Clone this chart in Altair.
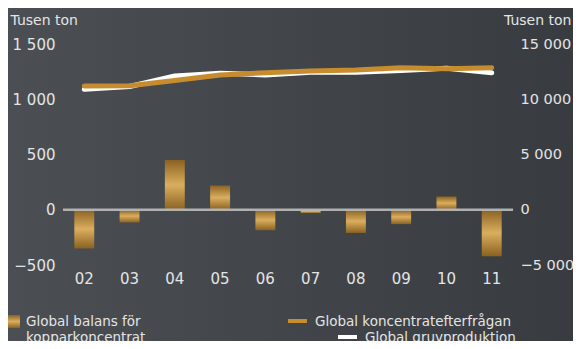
import altair as alt
import pandas as pd

# ---- data ----
years = ["02", "03", "04", "05", "06", "07", "08", "09", "10", "11"]
balance = [-350, -115, 450, 220, -185, -30, -210, -130, 120, -420]          # left axis (bars)
demand = [11200, 11230, 11700, 12200, 12400, 12550, 12650, 12850, 12750, 12850]   # right axis
production = [10900, 11150, 12100, 12350, 12200, 12450, 12450, 12600, 12800, 12400]  # right axis
left_ticks = [-500, 0, 500, 1000, 1500]
right_ticks = [-5000, 0, 5000, 10000, 15000]
axis_title = "Tusen ton"
legend_labels = ["Global balans för\nkopparkoncentrat", "Global koncentratefterfrågan", "Global gruvproduktion"]

W, H = 450, 221
PAD = {"left": 55, "top": 36, "right": 60, "bottom": 76}
FONT = "DejaVu Sans"
TXT = "#e4e4e4"
GOLD = "#c68c2d"

df = pd.DataFrame({"year": years, "balance": balance, "demand": demand, "production": production})
one = alt.Data(values=[{}])

bar_grad = alt.LinearGradient(
    gradient="linear", x1=0, x2=0, y1=0, y2=1,
    stops=[alt.GradientStop(color="#8a6221", offset=0),
           alt.GradientStop(color="#dbae5f", offset=0.5),
           alt.GradientStop(color="#8a6221", offset=1)])
bg_grad = alt.LinearGradient(
    gradient="linear", x1=0, x2=1, y1=0, y2=0,
    stops=[alt.GradientStop(color="#4b4f54", offset=0),
           alt.GradientStop(color="#383c40", offset=1)])

xscale = alt.Scale(paddingInner=0.56, paddingOuter=0.25)
x_enc = alt.X("year:N", sort=years, scale=xscale,
              axis=alt.Axis(title=None, labelAngle=0, labelFontSize=15, labelPadding=6,
                            domain=False, ticks=False, labelColor=TXT, labelFont=FONT, zindex=1))

fmt = "replace(format(datum.value, ','), ',', ' ')"

left_axis = alt.Axis(values=left_ticks, labelExpr=fmt, grid=False, domain=False, ticks=False,
                     labelPadding=8, labelFontSize=15, labelColor=TXT, labelFont=FONT,
                     title=axis_title, titleAngle=0, titleAlign="left", titleBaseline="alphabetic",
                     titleX=-53, titleY=-20, titleFontSize=14, titleFontWeight="normal",
                     titleColor=TXT, titleFont=FONT, zindex=1)
right_axis = alt.Axis(orient="right", values=right_ticks, labelExpr=fmt, grid=False, domain=False,
                      ticks=False, labelPadding=7, labelFontSize=14.5, labelColor=TXT, labelFont=FONT,
                      labelAlign="left", labelLimit=60,
                      title=axis_title, titleAngle=0, titleAlign="right", titleBaseline="alphabetic",
                      titleX=58, titleY=-20, titleFontSize=14, titleFontWeight="normal",
                      titleColor=TXT, titleFont=FONT, zindex=1)

left_scale = alt.Scale(domain=[-500, 1500], nice=False, zero=False)
right_scale = alt.Scale(domain=[-5000, 15000], nice=False, zero=False)

background = alt.Chart(one).mark_rect(fill=bg_grad).encode(
    x=alt.value(-PAD["left"]), x2=alt.value(W + PAD["right"]),
    y=alt.value(-PAD["top"]), y2=alt.value(H + PAD["bottom"]))

bars = alt.Chart(df).mark_bar(fill=bar_grad).encode(
    x=x_enc, y=alt.Y("balance:Q", scale=left_scale, axis=left_axis))
zero_rule = alt.Chart(one).mark_rule(color="#bcbcbc", strokeWidth=2.5, opacity=0.9).encode(
    y=alt.Y(datum=0, scale=left_scale, axis=left_axis))
left_layer = alt.layer(bars, zero_rule)

white_line = alt.Chart(df).mark_line(color="#ffffff", strokeWidth=5, strokeCap="round",
                                     strokeJoin="round").encode(
    x=x_enc, y=alt.Y("production:Q", scale=right_scale, axis=right_axis))
gold_line = alt.Chart(df).mark_line(color=GOLD, strokeWidth=5, strokeCap="round",
                                    strokeJoin="round").encode(
    x=x_enc, y=alt.Y("demand:Q", scale=right_scale, axis=right_axis))
right_layer = alt.layer(white_line, gold_line)

# ---- custom legend ----
lg_font = dict(font=FONT, fontSize=13.5, color=TXT, align="left", baseline="alphabetic")
leg_sq = alt.Chart(one).mark_rect(fill=bar_grad).encode(
    x=alt.value(-55), x2=alt.value(-43), y=alt.value(271), y2=alt.value(284))
leg_t1 = alt.Chart(one).mark_text(lineBreak="\n", lineHeight=16, **lg_font).encode(
    x=alt.value(-37), y=alt.value(282), text=alt.value(legend_labels[0]))
leg_gold = alt.Chart(one).mark_rule(color=GOLD, strokeWidth=4).encode(
    x=alt.value(225), x2=alt.value(244), y=alt.value(277))
leg_t2 = alt.Chart(one).mark_text(**lg_font).encode(
    x=alt.value(252), y=alt.value(282), text=alt.value(legend_labels[1]))
leg_white = alt.Chart(one).mark_rule(color="#ffffff", strokeWidth=4).encode(
    x=alt.value(275), x2=alt.value(294), y=alt.value(293))
leg_t3 = alt.Chart(one).mark_text(**lg_font).encode(
    x=alt.value(302), y=alt.value(298), text=alt.value(legend_labels[2]))

chart = alt.layer(
    background, left_layer, right_layer,
    leg_sq, leg_t1, leg_gold, leg_t2, leg_white, leg_t3
).resolve_scale(y="independent").properties(
    width=W, height=H,
    autosize=alt.AutoSizeParams(type="none"),
    padding=PAD,
    background="#42464b",
).configure_view(stroke=None)

chart.save("out.html", embed_options={"renderer": "svg", "actions": False})
